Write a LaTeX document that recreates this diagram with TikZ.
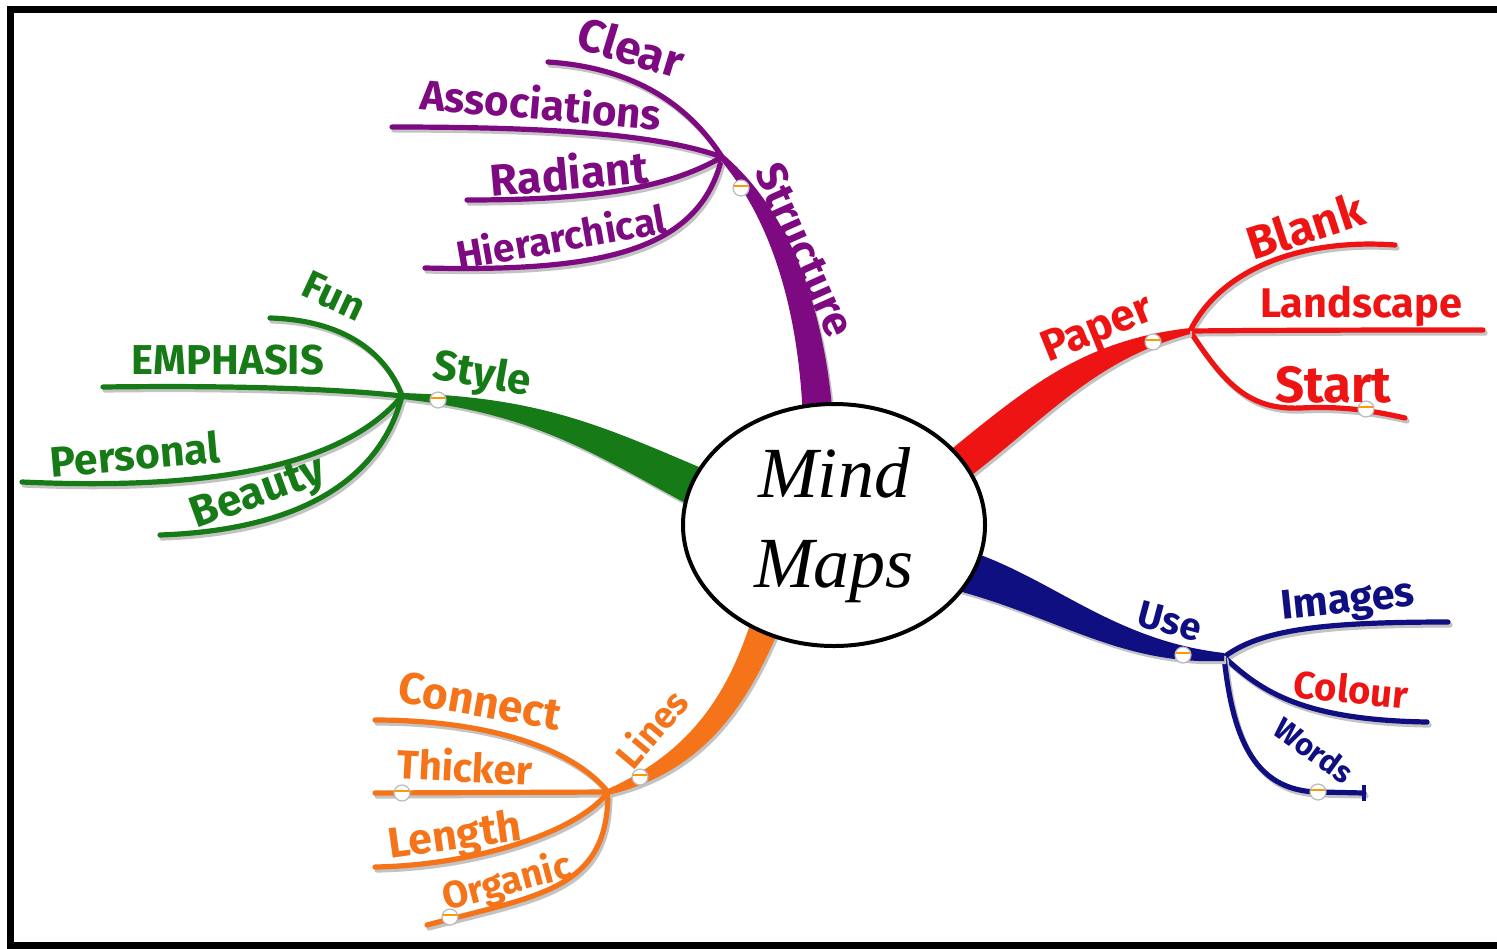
\documentclass[tikz,border=0pt]{standalone}
\usepackage{fontspec}
\usepackage{graphicx}
\usetikzlibrary{shapes.geometric}
\newfontfamily\hand{Fira Sans}
\newfontfamily\hubfont{Liberation Serif}
\definecolor{cpurple}{RGB}{125,10,128}
\definecolor{cgreen}{RGB}{22,122,22}
\definecolor{cred}{RGB}{238,20,20}
\definecolor{cblue}{RGB}{15,15,130}
\definecolor{corange}{RGB}{245,115,25}
\definecolor{cshadow}{RGB}{195,195,195}
\newcommand\lbl[2]{\resizebox{#1pt}{!}{\hand\bfseries #2}}
\newcommand\twig[2]{%
  \draw[shadowln] #2;
  \draw[twigln,draw=#1] #2;}
\begin{document}
\begin{tikzpicture}[x=0.5pt,y=-0.5pt,
  twigln/.style={line width=2.6pt,line cap=round},
  shadowln/.style={line width=2.6pt,line cap=round,draw=cshadow,
    transform canvas={xshift=1pt,yshift=-1.5pt}},
  lab/.style={inner sep=0pt,anchor=center},
  bulb/.style={circle,draw=gray!55,line width=0.6pt,fill=white,
    minimum size=8pt,inner sep=0pt,
    path picture={\draw[draw=orange!80!yellow,line width=1pt]
      ([yshift=0.8pt]path picture bounding box.west) --
      ([yshift=0.8pt]path picture bounding box.east);}},
  hub/.style={ellipse,draw=black,line width=2pt,fill=white,
    minimum width=151pt,minimum height=121pt,inner sep=0pt,
    align=center,font=\hubfont\fontsize{36}{45}\selectfont\itshape}]
\clip (0,0) rectangle (1497,948);
\fill[white] (0,0) rectangle (1497,948);

% junctions
\coordinate (Js) at (722,157);
\coordinate (Jg) at (402,396);
\coordinate (Jr) at (1190,331);
\coordinate (Jb) at (1224,657);
\coordinate (Jo) at (608,792);
% free ends
\coordinate (eClear) at (548,62);
\coordinate (eAssoc) at (392,127);
\coordinate (eRad) at (467,200);
\coordinate (eHier) at (425,268);
\coordinate (eFun) at (270,318);
\coordinate (eEmph) at (103,387);
\coordinate (ePers) at (22,482);
\coordinate (eBeau) at (160,535);
\coordinate (eBlank) at (1395,245);
\coordinate (eLand) at (1483,330);
\coordinate (eStart) at (1405,418);
\coordinate (eImg) at (1448,622);
\coordinate (eCol) at (1427,722);
\coordinate (eWords) at (1364,793);
\coordinate (eConn) at (375,720);
\coordinate (eThick) at (375,793);
\coordinate (eLen) at (375,867);
\coordinate (eOrg) at (427,925);

% purple twigs
\twig{cpurple}{(eClear) .. controls (640,68) and (692,110) .. (Js)}
\twig{cpurple}{(eAssoc) .. controls (560,127) and (660,135) .. (Js)}
\twig{cpurple}{(eRad) .. controls (600,200) and (670,187) .. (Js)}
\twig{cpurple}{(eHier) .. controls (600,272) and (700,252) .. (Js)}
% green twigs
\twig{cgreen}{(eFun) .. controls (340,320) and (385,350) .. (Jg)}
\twig{cgreen}{(eEmph) .. controls (250,385) and (350,390) .. (Jg)}
\twig{cgreen}{(ePers) .. controls (200,490) and (340,470) .. (Jg)}
\twig{cgreen}{(eBeau) .. controls (300,530) and (380,480) .. (Jg)}
% red twigs
\twig{cred}{(Jr) .. controls (1220,270) and (1300,238) .. (eBlank)}
\twig{cred}{(Jr) .. controls (1300,330) and (1400,330) .. (eLand)}
\twig{cred}{(Jr) .. controls (1225,385) and (1250,410) .. (1300,408) .. controls (1340,406) and (1370,410) .. (eStart)}
% blue twigs
\twig{cblue}{(Jb) .. controls (1260,630) and (1320,622) .. (eImg)}
\twig{cblue}{(Jb) .. controls (1260,690) and (1300,720) .. (eCol)}
\twig{cblue}{(Jb) .. controls (1232,730) and (1250,792) .. (1320,792) -- (eWords)}
\draw[twigln,draw=cblue,line cap=butt,line width=1.6pt] (eWords) ++(0,-8) -- ++(0,16);
% orange twigs
\twig{corange}{(eConn) .. controls (480,720) and (570,745) .. (Jo)}
\twig{corange}{(eThick) -- (Jo)}
\twig{corange}{(eLen) .. controls (480,865) and (580,830) .. (Jo)}
\twig{corange}{(eOrg) .. controls (540,895) and (608,890) .. (Jo)}

% thick tapered branches: shadows
\begin{scope}[transform canvas={xshift=1pt,yshift=-1.5pt}]
\fill[cshadow] (803,420) .. controls (799,320) and (776,225) .. (719,158) -- (725,156) .. controls (795,217) and (826,320) .. (833,420) -- cycle;
\fill[cshadow] (706,470) .. controls (600,425) and (540,397) .. (402,393) -- (402,399) .. controls (540,414) and (600,458) .. (702,512) -- cycle;
\fill[cshadow] (948,452) .. controls (1030,385) and (1085,340) .. (1190,328) -- (1190,334) .. controls (1095,360) and (1050,415) .. (968,478) -- cycle;
\fill[cshadow] (960,548) .. controls (1050,575) and (1110,640) .. (1224,653) -- (1224,661) .. controls (1120,665) and (1060,618) .. (955,590) -- cycle;
\fill[cshadow] (752,618) .. controls (728,695) and (690,752) .. (608,789) -- (608,795) .. controls (704,772) and (748,705) .. (782,622) -- cycle;
\end{scope}
% thick tapered branches
\fill[cpurple] (803,420) .. controls (799,320) and (776,225) .. (719,158) -- (725,156) .. controls (795,217) and (826,320) .. (833,420) -- cycle;
\fill[cgreen] (706,470) .. controls (600,425) and (540,397) .. (402,393) -- (402,399) .. controls (540,414) and (600,458) .. (702,512) -- cycle;
\fill[cred] (948,452) .. controls (1030,385) and (1085,340) .. (1190,328) -- (1190,334) .. controls (1095,360) and (1050,415) .. (968,478) -- cycle;
\fill[cblue] (960,548) .. controls (1050,575) and (1110,640) .. (1224,653) -- (1224,661) .. controls (1120,665) and (1060,618) .. (955,590) -- cycle;
\fill[corange] (752,618) .. controls (728,695) and (690,752) .. (608,789) -- (608,795) .. controls (704,772) and (748,705) .. (782,622) -- cycle;

% bulbs
\node[bulb] (b1) at (741,188) {};
\node[bulb] (b2) at (438,400) {};
\node[bulb] (b3) at (1153,342) {};
\node[bulb] (b4) at (1366,409) {};
\node[bulb] (b5) at (1183,655) {};
\node[bulb] (b6) at (1318,792) {};
\node[bulb] (b7) at (640,777) {};
\node[bulb] (b8) at (402,793) {};
\node[bulb] (b9) at (450,917) {};

% central node
\node[hub] (mm) at (834,525) {Mind\\Maps};

% labels: Structure
\node[lab,text=cpurple,rotate=-66] (tStruct) at (805,250) {\lbl{92}{Structure}};
\node[lab,text=cpurple,rotate=-17] (tClear) at (631,47) {\lbl{54}{Clear}};
\node[lab,text=cpurple,rotate=-5] (tAssoc) at (541,103) {\lbl{121}{Associations}};
\node[lab,text=cpurple,rotate=5] (tRad) at (569,172) {\lbl{79}{Radiant}};
\node[lab,text=cpurple,rotate=10] (tHier) at (561,236) {\lbl{106}{Hierarchical}};
% Style
\node[lab,text=cgreen,rotate=-10] (tStyle) at (482,376) {\lbl{49}{Style}};
\node[lab,text=cgreen,rotate=-25] (tFun) at (334,296) {\lbl{32}{Fun}};
\node[lab,text=cgreen] (tEmph) at (228,360) {\lbl{96}{EMPHASIS}};
\node[lab,text=cgreen,rotate=5] (tPers) at (135,454) {\lbl{85}{Personal}};
\node[lab,text=cgreen,rotate=20] (tBeau) at (259,495) {\lbl{70}{Beauty}};
% Paper
\node[lab,text=cred,rotate=22] (tPaper) at (1098,331) {\lbl{58}{Paper}};
\node[lab,text=cred,rotate=18] (tBlank) at (1305,226) {\lbl{60}{Blank}};
\node[lab,text=cred] (tLand) at (1361,306) {\lbl{101}{Landscape}};
\node[lab,text=cred] (tStart) at (1333,385) {\lbl{58}{Start}};
% Use
\node[lab,text=cblue,rotate=-15] (tUse) at (1170,621) {\lbl{32}{Use}};
\node[lab,text=cblue,rotate=6] (tImg) at (1348,603) {\lbl{67}{Images}};
\node[lab,text=cred,rotate=-6] (tCol) at (1351,689) {\lbl{57}{Colour}};
\node[lab,text=cblue,rotate=-36] (tWords) at (1314,750) {\lbl{44}{Words}};
% Lines
\node[lab,text=corange,rotate=50] (tLines) at (651,728) {\lbl{44}{Lines}};
\node[lab,text=corange,rotate=-10] (tConn) at (480,701) {\lbl{82}{Connect}};
\node[lab,text=corange,rotate=-3] (tThick) at (465,766) {\lbl{68}{Thicker}};
\node[lab,text=corange,rotate=8] (tLen) at (455,838) {\lbl{67}{Length}};
\node[lab,text=corange,rotate=15] (tOrg) at (507,883) {\lbl{66}{Organic}};

% frame
\draw[line width=3.5pt] (1530,9.5) -- (10.5,9.5) -- (10.5,945) -- (1530,945);
\end{tikzpicture}
\end{document}
